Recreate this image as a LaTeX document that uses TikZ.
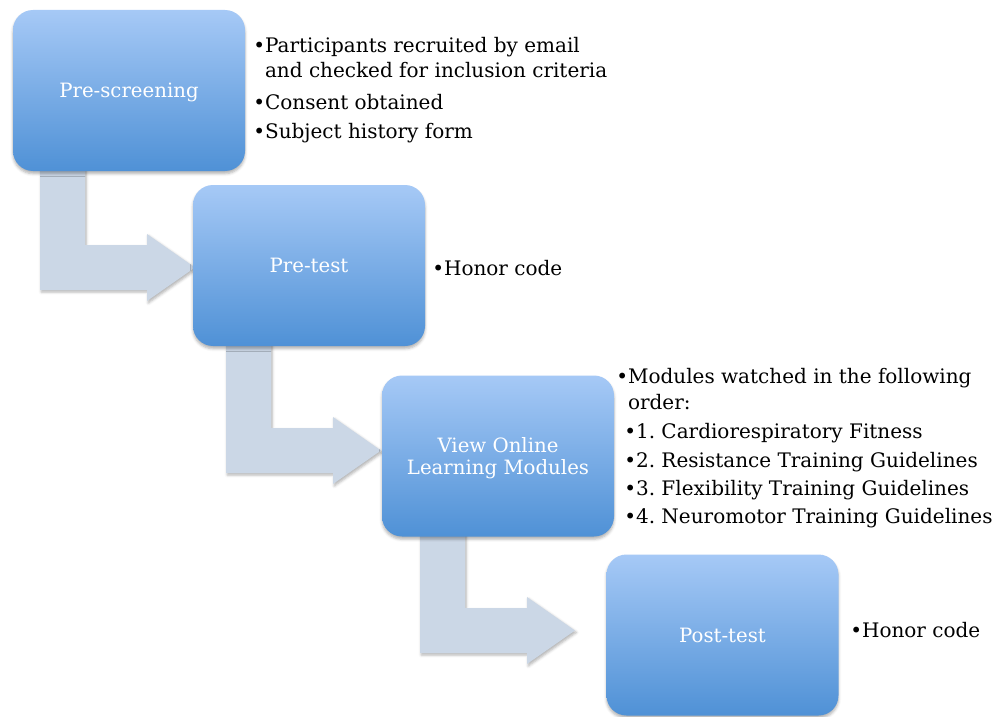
\documentclass[tikz,border=0pt]{standalone}
\usepackage{fontspec}
\setmainfont{DejaVu Serif}
\usetikzlibrary{shadows.blur}
\frenchspacing
\definecolor{boxtop}{RGB}{166,201,246}
\definecolor{boxbot}{RGB}{79,145,214}
\definecolor{arrowfill}{RGB}{203,215,230}
\tikzset{
  stage/.style={rounded corners=15pt, minimum width=174pt, minimum height=120.75pt,
    top color=boxtop, bottom color=boxbot, text=white, align=center, text depth=0pt,
    font=\fontsize{14.8}{16.5}\selectfont,
    blur shadow={shadow xshift=0pt, shadow yshift=-2pt, shadow blur radius=2pt, shadow opacity=30}},
  note/.style={anchor=base west, inner sep=0pt, font=\fontsize{15}{18.75}\selectfont},
  flow/.style={fill=arrowfill,
    blur shadow={shadow xshift=1pt, shadow yshift=-1.5pt, shadow blur radius=2pt, shadow opacity=30}},
  bentarrow/.pic={\path[flow] (0,-135) -- (0,0) -- (107,0) -- (107,11) -- (155,-22.5)
      -- (107,-56) -- (107,-45) -- (45,-45) -- (45,-135) -- cycle;}
}
\begin{document}
\begin{tikzpicture}[x=0.75pt,y=-0.75pt]
\useasboundingbox (0,0) rectangle (1000,717);
% arrows
\pic at (40,290) {bentarrow};
\pic at (226,473) {bentarrow};
\pic at (420,653) {bentarrow};
% boxes
\node[stage] (pre) at (129,90.5) {Pre-screening};
\node[stage] (pretest) at (309,265.5) {Pre-test};
\node[stage] (view) at (498,456) {View Online\\Learning Modules};
\node[stage] (post) at (722.5,635) {Post-test};
% notes
\node[note] (n1a) at (253,53) {•Participants recruited by email};
\node[note] (n1b) at (253,78) {\phantom{•}and checked for inclusion criteria};
\node[note] (n1c) at (253,109) {•Consent obtained};
\node[note] (n1d) at (253,138) {•Subject history form};
\node[note] (n2) at (432,275) {•Honor code};
\node[note] (n3a) at (616,383) {•Modules watched in the following};
\node[note] (n3b) at (616,409) {\phantom{•}order:};
\node[note] (n3c) at (624,438) {•1. Cardiorespiratory Fitness};
\node[note] (n3d) at (624,467) {•2. Resistance Training Guidelines};
\node[note] (n3e) at (624,495) {•3. Flexibility Training Guidelines};
\node[note] (n3f) at (624,523) {•4. Neuromotor Training Guidelines};
\node[note] (n4) at (850,637) {•Honor code};
\end{tikzpicture}
\end{document}
